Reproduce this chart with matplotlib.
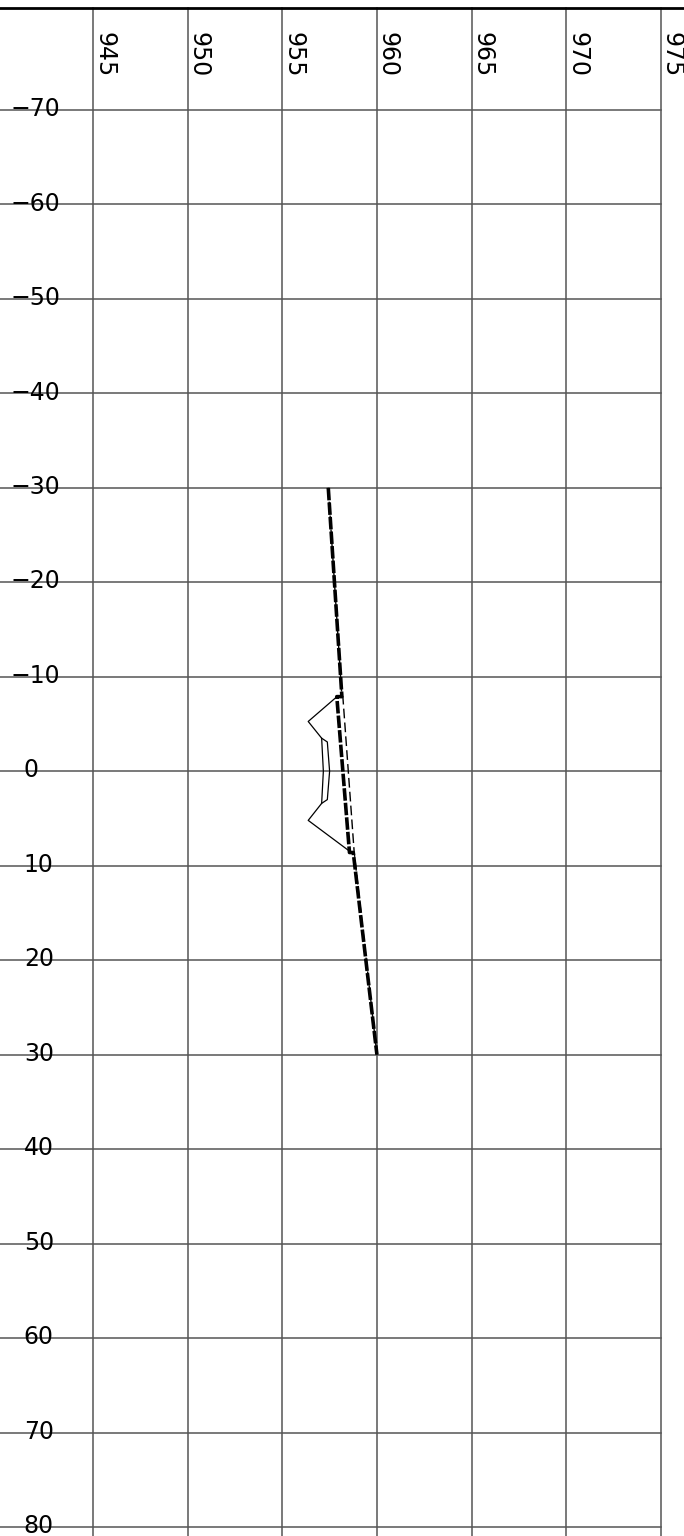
import matplotlib
matplotlib.use("Agg")
import matplotlib.pyplot as plt

# grid values
x_ticks = [945, 950, 955, 960, 965, 970, 975]
y_ticks = [-70, -60, -50, -40, -30, -20, -10, 0, 10, 20, 30, 40, 50, 60, 70, 80]

# existing ground (thick dashed)
ground_x = [957.43, 958.15, 957.88, 958.55, 958.75, 960.0]
ground_y = [-30, -7.9, -7.9, 8.6, 8.6, 30]

# design line (thin dashed)
design_x = [957.43, 958.15, 958.2, 958.8, 960.0]
design_y = [-30, -7.9, -7.9, 8.6, 30]

# section outline (thin solid)
outer_x = [957.89, 956.37, 957.08, 957.17, 957.08, 956.37, 958.58]
outer_y = [-7.9, -5.27, -3.5, 0, 3.4, 5.2, 8.5]
inner_x = [957.08, 957.38, 957.5, 957.38, 957.08]
inner_y = [-3.5, -3.1, 0, 3.0, 3.4]

plt.rcParams['lines.scale_dashes'] = False
plt.rcParams['font.family'] = ['DejaVu Sans']

fig = plt.figure(figsize=(6.84, 15.36), dpi=100)
ax = fig.add_axes([0, 0, 1, 1])
ax.set_xlim(940.09, 976.22)
ax.set_ylim(80.95, -81.64)
ax.axis('off')

top = -80.8
grid_color = '#555555'

# horizontal grid lines, from the left edge to the last vertical line
for y in y_ticks:
    ax.plot([940.09, x_ticks[-1]], [y, y], color=grid_color, lw=1.1, zorder=1)
    xt = 940.65 if y < 0 else 941.35
    ax.text(xt, y + 0.65, str(y).replace('-', '\u2212'), fontsize=17,
            ha='left', va='baseline', zorder=3)

# vertical grid lines
for x in x_ticks:
    ax.plot([x, x], [top, 80.95], color=grid_color, lw=1.1, zorder=1)
    ax.text(x - 0.05, -78.3, str(x), fontsize=17, rotation=270,
            ha='left', va='top', zorder=3)

# thick top border
ax.plot([940.09, 976.22], [top, top], color='black', lw=2.0, zorder=2)

# profile lines
ax.plot(ground_x, ground_y, color='black', lw=2.6, linestyle=(0, (9, 1.5)), zorder=4)
ax.plot(design_x, design_y, color='black', lw=1.0, linestyle=(0, (7, 3)), zorder=4)
ax.plot(outer_x, outer_y, color='black', lw=0.9, zorder=4)
ax.plot(inner_x, inner_y, color='black', lw=0.9, zorder=4)

fig.savefig('out.png', dpi=100)
